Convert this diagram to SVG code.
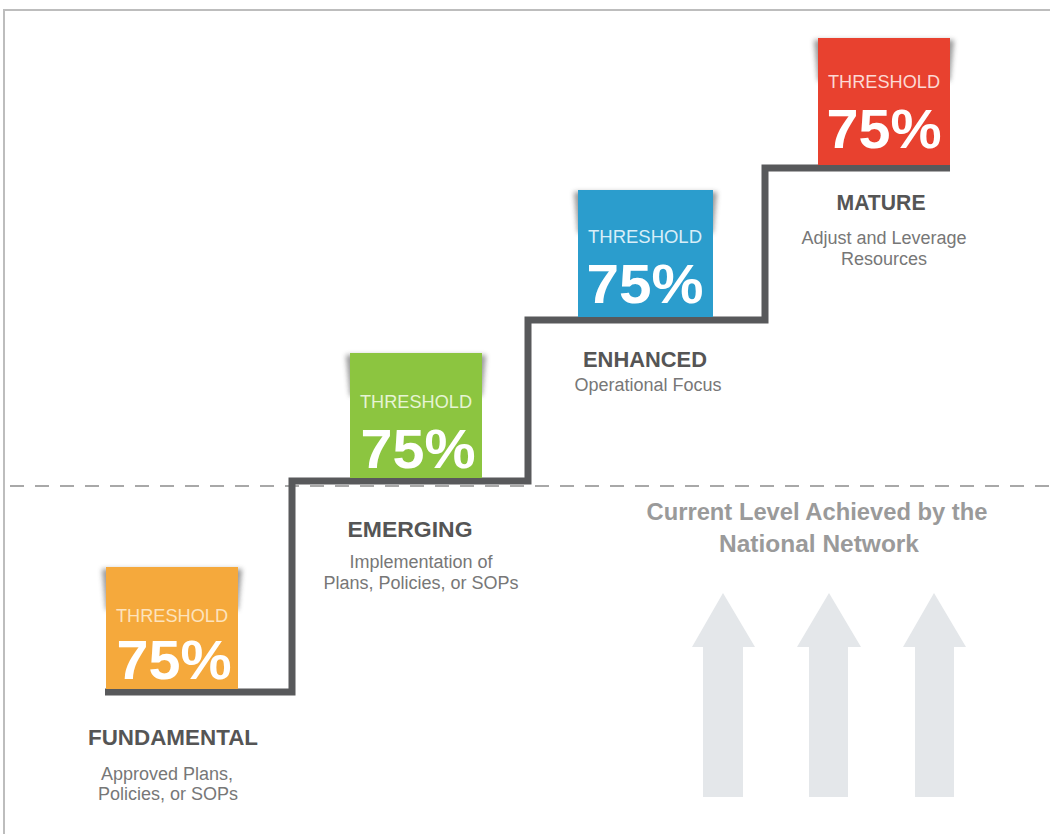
<svg xmlns="http://www.w3.org/2000/svg" width="1050" height="834" viewBox="0 0 1050 834">
<defs>
<style>
.frame{fill:none;stroke:#bdbdbd;stroke-width:2}
.stair{fill:none;stroke:#58595b;stroke-width:7;stroke-linejoin:miter}
.dash{stroke:#a8a8a8;stroke-width:2;stroke-dasharray:14 11}
.arrow{fill:#e4e7ea}
.shadow{fill:#444;opacity:0.55}
.th{font-family:"Liberation Sans",Arial,sans-serif;font-size:18px;text-anchor:middle}
.pct{font-family:"Liberation Sans",Arial,sans-serif;font-size:56px;font-weight:bold;fill:#fff;text-anchor:middle}
.lbl{font-family:"Liberation Sans",Arial,sans-serif;font-size:22px;font-weight:bold;fill:#555;text-anchor:middle}
.desc{font-family:"Liberation Sans",Arial,sans-serif;font-size:18px;fill:#777;text-anchor:middle}
.cur{font-family:"Liberation Sans",Arial,sans-serif;font-size:23px;font-weight:bold;fill:#9a9a9a;text-anchor:middle}
</style>
<filter id="blur" x="-20%" y="-20%" width="140%" height="140%"><feGaussianBlur stdDeviation="2.5"/></filter>
</defs>
<rect class="frame" x="4" y="10" width="1060" height="840"/>
<line class="dash" x1="10" y1="486" x2="1050" y2="486"/>
<g id="staircase">
<path class="stair" d="M105 692 H292 V481 H528 V320 H765 V168 H950"/>
</g>
<g id="fundamental">
<polygon class="shadow" filter="url(#blur)" points="102,569 242,569 238,610 106,610"/>
<rect x="106" y="567" width="132" height="122" fill="#f5a93c"/>
<text class="th" x="172" y="622" fill="#fde3bd" textLength="112" lengthAdjust="spacingAndGlyphs">THRESHOLD</text>
<text class="pct" x="174" y="679" textLength="115" lengthAdjust="spacingAndGlyphs">75%</text>
<text class="lbl" x="173" y="745" textLength="170" lengthAdjust="spacingAndGlyphs">FUNDAMENTAL</text>
<text class="desc" x="167" y="780">Approved Plans,</text>
<text class="desc" x="168" y="800">Policies, or SOPs</text>
</g>
<g id="emerging">
<polygon class="shadow" filter="url(#blur)" points="346,355 486,355 482,396 350,396"/>
<rect x="350" y="353" width="132" height="125" fill="#8cc540"/>
<text class="th" x="416" y="408" fill="#e6f4d4" textLength="112" lengthAdjust="spacingAndGlyphs">THRESHOLD</text>
<text class="pct" x="418" y="468" textLength="115" lengthAdjust="spacingAndGlyphs">75%</text>
<text class="lbl" x="410" y="537" textLength="125" lengthAdjust="spacingAndGlyphs">EMERGING</text>
<text class="desc" x="421" y="568">Implementation of</text>
<text class="desc" x="421" y="589">Plans, Policies, or SOPs</text>
</g>
<g id="enhanced">
<polygon class="shadow" filter="url(#blur)" points="574,192 717,192 713,233 578,233"/>
<rect x="578" y="190" width="135" height="127" fill="#2b9dcd"/>
<text class="th" x="645" y="243" fill="#d8eef8" textLength="114" lengthAdjust="spacingAndGlyphs">THRESHOLD</text>
<text class="pct" x="645" y="303" textLength="117" lengthAdjust="spacingAndGlyphs">75%</text>
<text class="lbl" x="645" y="367" textLength="124" lengthAdjust="spacingAndGlyphs">ENHANCED</text>
<text class="desc" x="648" y="391">Operational Focus</text>
</g>
<g id="mature">
<polygon class="shadow" filter="url(#blur)" points="814,40 954,40 950,81 818,81"/>
<rect x="818" y="38" width="132" height="127" fill="#e8412f"/>
<text class="th" x="884" y="88" fill="#fcd9d4" textLength="112" lengthAdjust="spacingAndGlyphs">THRESHOLD</text>
<text class="pct" x="884" y="148" textLength="115" lengthAdjust="spacingAndGlyphs">75%</text>
<text class="lbl" x="881" y="210" textLength="89" lengthAdjust="spacingAndGlyphs">MATURE</text>
<text class="desc" x="884" y="244">Adjust and Leverage</text>
<text class="desc" x="884" y="265">Resources</text>
</g>
<g id="current-level">
<text class="cur" x="817" y="520" textLength="341" lengthAdjust="spacingAndGlyphs">Current Level Achieved by the</text>
<text class="cur" x="819" y="552" textLength="200" lengthAdjust="spacingAndGlyphs">National Network</text>
<polygon class="arrow" points="723,593 755,647 743,647 743,797 703,797 703,647 692,647"/>
<polygon class="arrow" points="829,593 861,647 848,647 848,797 809,797 809,647 797,647"/>
<polygon class="arrow" points="934,593 966,647 954,647 954,797 915,797 915,647 903,647"/>
</g>
</svg>
